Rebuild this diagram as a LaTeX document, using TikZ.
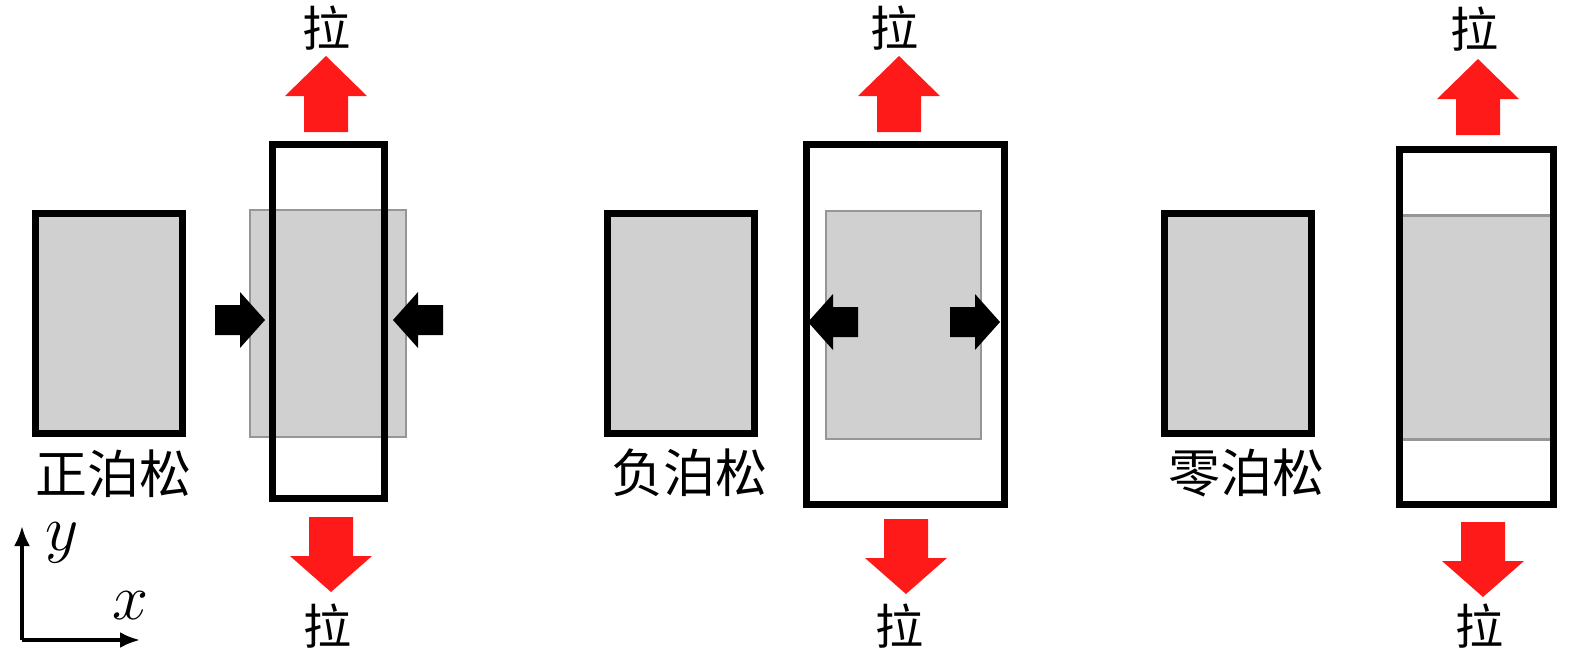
\documentclass[tikz,border=0pt]{standalone}
\usepackage{xcolor}
\usepackage{fontspec}
\newfontfamily\cjk{Noto Sans CJK SC}
\usetikzlibrary{arrows.meta}

\definecolor{pullred}{RGB}{255,26,26}
\definecolor{filmgray}{RGB}{208,208,208}
\definecolor{edgegray}{RGB}{150,150,150}

\newcommand{\axisvar}[1]{\scalebox{1.3}{$#1$}}

\tikzset{
  frame/.style={draw=black, line width=3.5pt},
  film/.style={fill=filmgray, draw=edgegray, line width=1pt},
  cjklabel/.style={font=\cjk\fontsize{26}{26}\selectfont, inner sep=0pt},
  pulltext/.style={font=\cjk\fontsize{24}{24}\selectfont, inner sep=0pt},
  axislabel/.style={font=\fontsize{24.88}{26}\selectfont, inner sep=0pt},
  axis/.style={line width=1.8pt, -{Latex[length=10pt,width=8pt]}},
  % pics ignore the picture's yscale: y points up inside them
  pullup/.pic={\fill[pullred] (-22,0) -- (-22,36) -- (-41,36) -- (0,76) -- (41,36) -- (22,36) -- (22,0) -- cycle;},
  pulldown/.pic={\fill[pullred] (-22,0) -- (-22,-39) -- (-41,-39) -- (0,-75) -- (41,-39) -- (22,-39) -- (22,0) -- cycle;},
  push/.pic={\fill[black] (0,0) -- (-25,-28) -- (-25,-15) -- (-50,-15) -- (-50,15) -- (-25,15) -- (-25,28) -- cycle;}
}

\begin{document}
\begin{tikzpicture}[x=0.5pt,y=0.5pt,yscale=-1,xscale=1]
\useasboundingbox (0,0) rectangle (1575,654);

%%% positive Poisson
%Shape: Rectangle [original]
\draw [frame, fill=filmgray] (35.5,213.5) rectangle (182.5,433.5);
%Shape: Rectangle [shrunk film]
\draw [film] (250,210) rectangle (406,437);
%Shape: Rectangle [stretched]
\draw [frame] (272,144.5) rectangle (384,498.5);
%Arrows
\pic at (326,132) {pullup};
\pic at (331,517) {pulldown};
\pic at (265,320) {push};
\pic [xscale=-1] at (393,320) {push};

%%% negative Poisson
%Shape: Rectangle [original]
\draw [frame, fill=filmgray] (607.5,213.5) rectangle (754.5,433.5);
%Shape: Rectangle [film]
\draw [film] (826,211) rectangle (981,439);
%Shape: Rectangle [stretched]
\draw [frame] (806,144) rectangle (1004,504);
%Arrows
\pic at (899,132) {pullup};
\pic at (906,519) {pulldown};
\pic [xscale=-1] at (808,322) {push};
\pic at (1000,322) {push};

%%% zero Poisson
%Shape: Rectangle [original]
\draw [frame, fill=filmgray] (1164.5,213.5) rectangle (1311.5,433.5);
%Shape: Rectangle [film band]
\fill [filmgray] (1399.5,215) rectangle (1553.5,439);
\draw [edgegray, line width=1.5pt] (1399.5,215) -- (1553.5,215) (1399.5,439) -- (1553.5,439);
%Shape: Rectangle [stretched]
\draw [frame] (1399.5,149.5) rectangle (1553.5,504);
%Arrows
\pic at (1478,135) {pullup};
\pic at (1483,522) {pulldown};

%Axes
\coordinate (o) at (22,640);
\coordinate (ytip) at (22,526);
\coordinate (xtip) at (140,640);
\draw [axis] (o) -- (ytip);
\draw [axis] (o) -- (xtip);
\node (ylab) at (62,543) [axislabel] {\axisvar{y}};
\node (xlab) at (130,606) [axislabel] {\axisvar{x}};

% Text Node
\node (lblpos) at (113,474) [cjklabel] {正泊松};
\node (lblneg) at (689,473) [cjklabel] {负泊松};
\node (lblzero) at (1246,473) [cjklabel] {零泊松};
% Text Node
\node (la1t) at (326,28) [pulltext] {拉};
\node (la1b) at (327,626) [pulltext] {拉};
\node (la2t) at (894,28) [pulltext] {拉};
\node (la2b) at (899,626) [pulltext] {拉};
\node (la3t) at (1474,29) [pulltext] {拉};
\node (la3b) at (1479,626) [pulltext] {拉};

\end{tikzpicture}
\end{document}
